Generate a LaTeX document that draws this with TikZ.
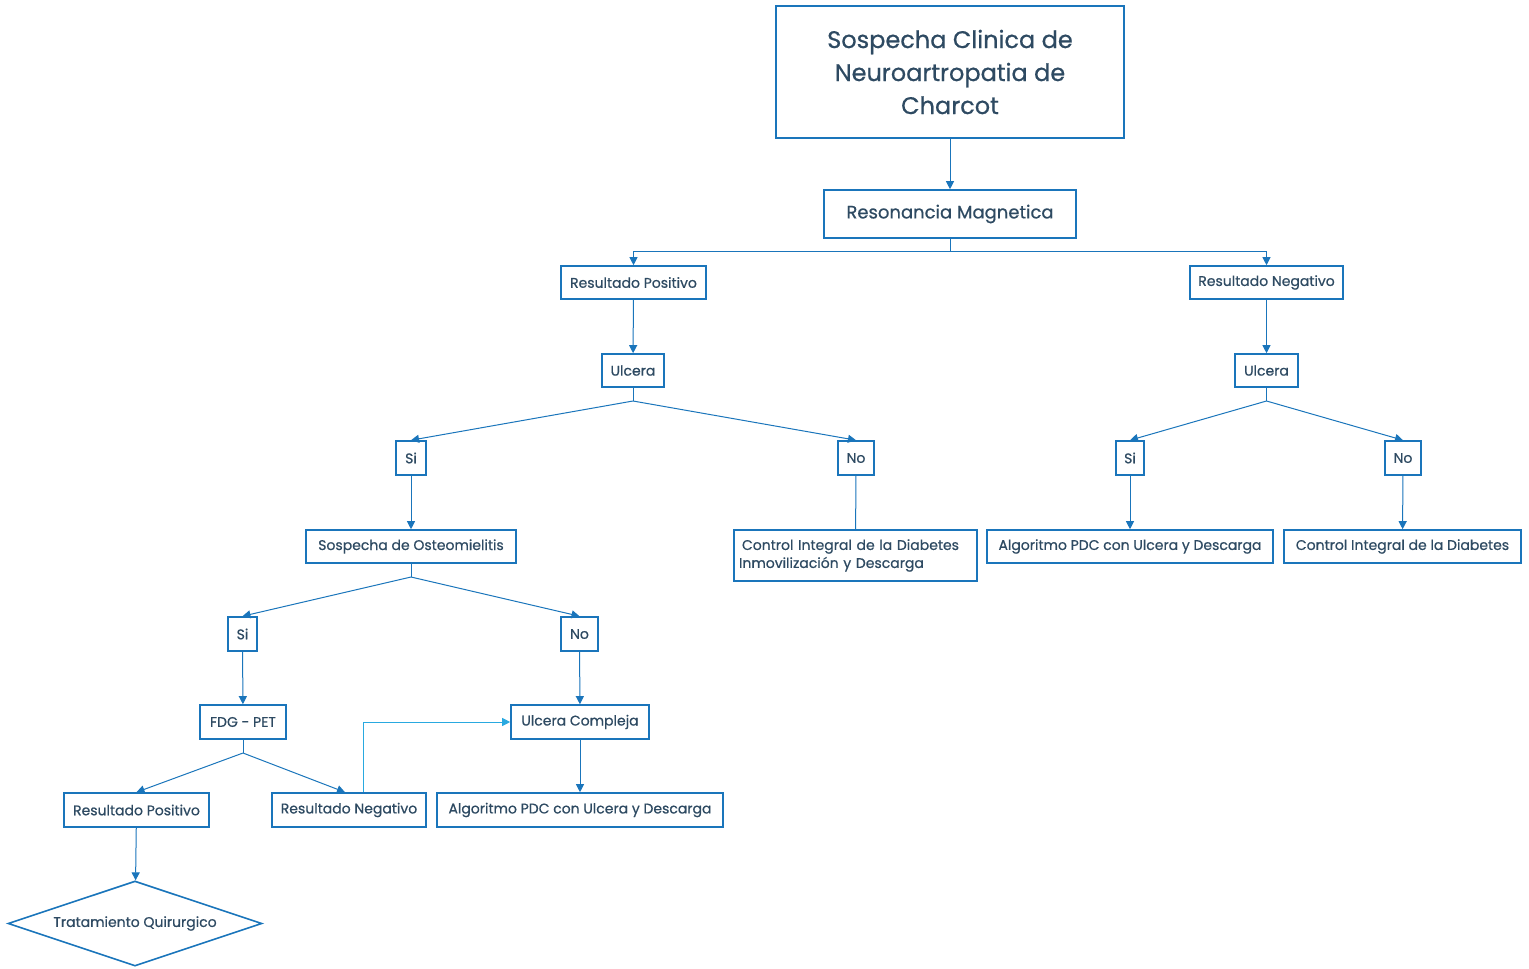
\documentclass[tikz,border=0pt]{standalone}
\usepackage{fontspec}
\setmainfont{Poppins}[FakeBold=0.6]
\usetikzlibrary{arrows.meta,shapes.geometric}
\definecolor{edge}{HTML}{1A75BB}
\definecolor{ink}{HTML}{2E4A62}
\definecolor{link}{HTML}{29A9E0}
\tikzset{
  box/.style={draw=edge,line width=1.6pt,fill=white,text=ink,inner sep=0pt,
    font=\fontsize{14}{17}\selectfont},
  conn/.style={draw=edge,line width=1pt,-{Triangle[length=8pt,width=8pt]}},
  plain/.style={draw=edge,line width=1pt},
}
\begin{document}
\begin{tikzpicture}[x=1pt,y=-1pt]
\useasboundingbox (0,0) rectangle (1529,969);
% top level
\node[box,minimum width=348,minimum height=132,align=center,
  font=\fontsize{24}{33}\selectfont] (title) at (950,72)
  {Sospecha Clinica de\\Neuroartropatia de\\Charcot};
\node[box,minimum width=252,minimum height=48,font=\fontsize{18}{21}\selectfont]
  (rm) at (950,214) {Resonancia Magnetica};
% results of the MRI
\node[box,minimum width=145,minimum height=33] (rpos) at (633.5,282.5) {Resultado Positivo};
\node[box,minimum width=153,minimum height=33] (rneg) at (1266.5,282.5) {Resultado Negativo};
\node[box,minimum width=62,minimum height=33] (ul1) at (633,370.5) {Ulcera};
\node[box,minimum width=63,minimum height=33] (ul2) at (1266.5,370.5) {Ulcera};
% left branch
\node[box,minimum width=30,minimum height=34] (si1) at (411,458) {Si};
\node[box,minimum width=36,minimum height=34] (no1) at (856,458) {No};
\node[box,minimum width=210,minimum height=33] (osteo) at (411,546.5) {Sospecha de Osteomielitis};
\node[box,minimum width=243,minimum height=51,align=left,text width=233,
  font=\fontsize{14}{18}\selectfont] (ctrl1) at (855.5,555.5)
  {\hspace*{3pt}Control Integral de la Diabetes\\Inmovilización y Descarga};
% right branch
\node[box,minimum width=28,minimum height=34] (si2) at (1130,458) {Si};
\node[box,minimum width=36,minimum height=34] (no2) at (1403,458) {No};
\node[box,minimum width=286,minimum height=33] (alg1) at (1130,546.5) {Algoritmo PDC con Ulcera y Descarga};
\node[box,minimum width=237,minimum height=33] (ctrl2) at (1402.5,546.5) {Control Integral de la Diabetes};
% osteomyelitis branch
\node[box,minimum width=29,minimum height=34] (si3) at (242.5,634) {Si};
\node[box,minimum width=37,minimum height=34] (no3) at (579.5,634) {No};
\node[box,minimum width=86,minimum height=34] (fdg) at (243,722) {FDG - PET};
\node[box,minimum width=138,minimum height=34] (ucomp) at (580,722) {Ulcera Compleja};
\node[box,minimum width=145,minimum height=34] (rpos2) at (136.5,810) {Resultado Positivo};
\node[box,minimum width=154,minimum height=34] (rneg2) at (349,810) {Resultado Negativo};
\node[box,minimum width=286,minimum height=34] (alg2) at (580,810) {Algoritmo PDC con Ulcera y Descarga};
\node[draw=edge,line width=1.6pt,text=ink,diamond,aspect=3,inner sep=0pt,
  minimum width=254,minimum height=85,font=\fontsize{14}{17}\selectfont]
  (tq) at (135,923.5) {Tratamiento Quirurgico};
% branching points
\coordinate (j0) at (950,251);
\coordinate (j1) at (633,401);
\coordinate (j2) at (1266.5,401);
\coordinate (j3) at (411,577);
\coordinate (j4) at (243,753);
% connectors
\draw[conn] (title) -- (rm);
\draw[plain] (rm) -- (j0);
\draw[conn] (j0) -| (rpos);
\draw[conn] (j0) -| (rneg);
\draw[conn] (rpos) -- (ul1);
\draw[conn] (rneg) -- (ul2);
\draw[plain] (ul1) -- (j1);
\draw[conn] (j1) -- (si1.north);
\draw[conn] (j1) -- (no1.north);
\draw[plain] (ul2) -- (j2);
\draw[conn] (j2) -- (si2.north);
\draw[conn] (j2) -- (no2.north);
\draw[conn] (si1) -- (osteo);
\draw[plain] (no1) -- (ctrl1);
\draw[conn] (si2) -- (alg1);
\draw[conn] (no2) -- (ctrl2);
\draw[plain] (osteo) -- (j3);
\draw[conn] (j3) -- (si3.north);
\draw[conn] (j3) -- (no3.north);
\draw[conn] (si3) -- (fdg);
\draw[conn] (no3) -- (ucomp);
\draw[plain] (fdg) -- (j4);
\draw[conn] (j4) -- (rpos2.north);
\draw[conn] (j4) -- ([xshift=-4pt]rneg2.north);
\draw[conn] (ucomp) -- (alg2);
\draw[conn] (rpos2) -- (tq);
\draw[draw=link,line width=1pt,-{Triangle[length=8pt,width=8pt]}]
  ([xshift=14pt]rneg2.north) |- (ucomp.west);
\end{tikzpicture}
\end{document}
